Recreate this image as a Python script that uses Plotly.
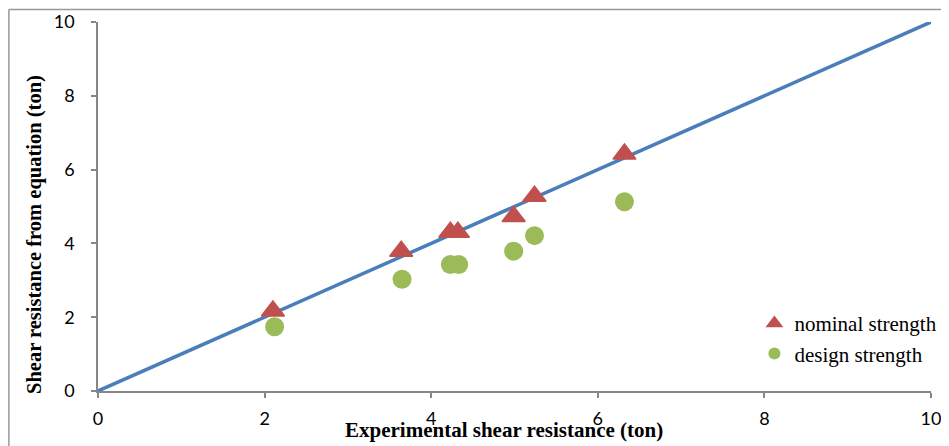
import plotly.graph_objects as go

# Data
exp_nominal = [2.10, 3.64, 4.23, 4.32, 4.99, 5.24, 6.32]
nominal_strength = [2.17, 3.79, 4.30, 4.30, 4.73, 5.28, 6.42]
exp_design = [2.12, 3.65, 4.23, 4.33, 4.99, 5.24, 6.32]
design_strength = [1.74, 3.03, 3.43, 3.43, 3.79, 4.21, 5.13]
line_x = [0, 10]
line_y = [0, 10]
tick_vals = [0, 2, 4, 6, 8, 10]

fig = go.Figure()
fig.add_trace(go.Scatter(x=line_x, y=line_y, mode="lines",
                         line=dict(color="#4A7EBB", width=3.5),
                         showlegend=False, hoverinfo="skip"))
fig.add_trace(go.Scatter(x=exp_nominal, y=nominal_strength, mode="markers",
                         name="nominal strength",
                         marker=dict(symbol="triangle-up", size=20, color="#C0504D",
                                     line=dict(color="#C0504D", width=1.5))))
fig.add_trace(go.Scatter(x=exp_design, y=design_strength, mode="markers",
                         name="design strength",
                         marker=dict(symbol="circle", size=19, color="#9BBB59")))

axis_common = dict(range=[0, 10], tickvals=tick_vals, showgrid=False, zeroline=False,
                   showline=True, linecolor="#868686", linewidth=1.5,
                   ticks="outside", ticklen=5, tickcolor="#868686", tickwidth=1.5,
                   automargin=False, ticklabeloverflow="allow",
                   tickfont=dict(family="Lato", size=18, color="#000000"))

fig.update_xaxes(**axis_common, ticklabelstandoff=6)
fig.update_yaxes(**axis_common, ticklabelstandoff=13)

# page body has an 8px margin; figure sized so that the page shows 949x446
fig.update_layout(
    width=933, height=438,
    margin=dict(l=90, r=10, t=14, b=55, autoexpand=False),
    paper_bgcolor="white", plot_bgcolor="white",
    legend=dict(x=0.788, y=0.1423, xanchor="left", yanchor="middle",
                bgcolor="rgba(0,0,0,0)",
                font=dict(family="Liberation Serif", size=21, color="#000000"),
                itemsizing="constant"),
    annotations=[
        dict(text="<b>Experimental shear resistance (ton)</b>", xref="paper", yref="paper",
             x=0.487, y=-0.1057, xanchor="center", yanchor="middle", showarrow=False,
             font=dict(family="Liberation Serif", size=21, color="#000000")),
        dict(text="<b>Shear resistance from equation (ton)</b>", xref="paper", yref="paper",
             x=-0.0756, y=0.4228, xanchor="center", yanchor="middle", showarrow=False,
             textangle=-90,
             font=dict(family="Liberation Serif", size=20.5, color="#000000")),
    ],
    shapes=[
        dict(type="line", xref="paper", yref="paper", x0=-0.107, y0=1.0339, x1=1.2, y1=1.0339,
             line=dict(color="#999999", width=1.5)),
        dict(type="line", xref="paper", yref="paper", x0=-0.107, y0=1.0339, x1=-0.107, y1=-0.5,
             line=dict(color="#999999", width=1.5)),
    ],
)

fig.write_html("out.html")
